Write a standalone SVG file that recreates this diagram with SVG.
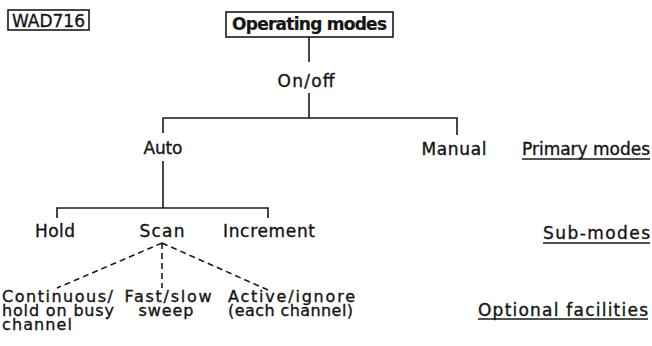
<svg xmlns="http://www.w3.org/2000/svg" width="652" height="346" viewBox="0 0 652 346">
<style>
text{font-family:"DejaVu Sans","Liberation Sans",sans-serif;font-size:17px;fill:#141414;stroke:#141414;stroke-width:0.35}
.m{text-anchor:middle}
.b{font-weight:bold;stroke-width:0.2}
.s{font-size:16px}
.ln{stroke:#1a1a1a;stroke-width:1.6;fill:none}
.ds{stroke:#1a1a1a;stroke-width:1.6;fill:none;stroke-dasharray:6 4}
.bx{stroke:#1a1a1a;stroke-width:1.6;fill:none}
</style>
<rect width="652" height="346" fill="#fff"/>
<g id="tag"><rect class="bx" x="8" y="10" width="81" height="20"/><text x="12" y="27" textLength="73">WAD716</text></g>
<g id="root"><rect class="bx" x="226" y="12" width="167" height="25"/><text class="m b" x="309.5" y="30" textLength="155">Operating modes</text></g>
<g id="connectors">
<path class="ln" d="M309 37V62M309 93V118M163 133V118H457V135"/>
<path class="ln" d="M163 161V208M57 218V208H268V218"/>
<path class="ds" d="M162 243L57 288M162 243V288M162 243L268 290"/>
<path class="ln" d="M522 159H650M543 243H650M478 319H648"/>
</g>
<g id="onoff"><text class="m" x="306" y="87" textLength="57">On/off</text></g>
<g id="auto"><text class="m" x="163" y="154" textLength="39">Auto</text></g>
<g id="manual"><text class="m" x="454" y="155" textLength="65">Manual</text></g>
<g id="hold"><text class="m" x="55" y="237" textLength="40">Hold</text></g>
<g id="scan"><text class="m" x="162" y="237" textLength="45">Scan</text></g>
<g id="increment"><text class="m" x="269" y="237" textLength="92">Increment</text></g>
<g id="continuous"><text class="s" x="2" y="302" textLength="111">Continuous/</text><text class="s" x="2" y="316" textLength="112">hold on busy</text><text class="s" x="2" y="330" textLength="70">channel</text></g>
<g id="fastslow"><text class="m s" x="168" y="302" textLength="87">Fast/slow</text><text class="m s" x="166" y="316" textLength="55">sweep</text></g>
<g id="active"><text class="s" x="228" y="302" textLength="127">Active/ignore</text><text class="s" x="228" y="316" textLength="125">(each channel)</text></g>
<g id="primary"><text x="522" y="155" textLength="128">Primary modes</text></g>
<g id="submodes"><text x="543" y="239" textLength="107">Sub-modes</text></g>
<g id="optional"><text x="478" y="316" textLength="170">Optional facilities</text></g>
</svg>
